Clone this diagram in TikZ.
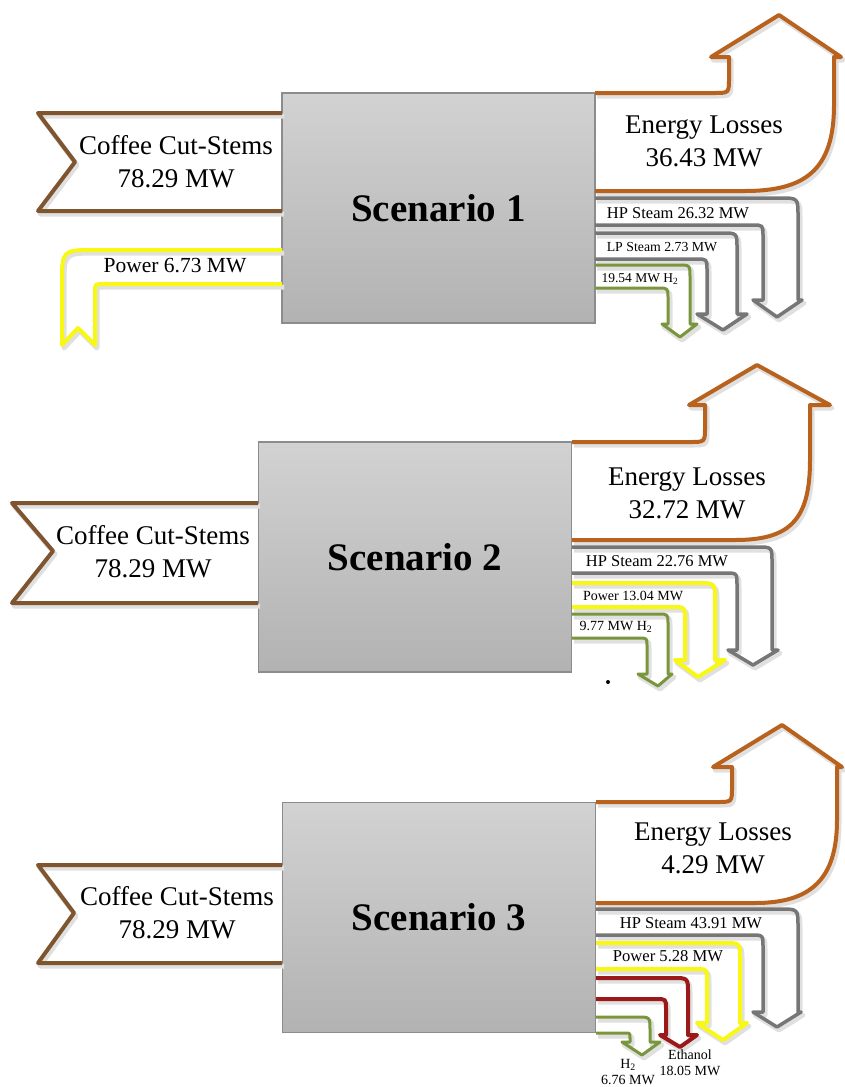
\documentclass[tikz,border=0pt]{standalone}
\usepackage{fontspec}
\setmainfont{Liberation Serif}
\definecolor{cbrown}{RGB}{127,85,48}
\definecolor{closs}{RGB}{184,98,30}
\definecolor{cgrayarr}{RGB}{118,118,118}
\definecolor{cyel}{RGB}{248,248,20}
\definecolor{cgreen}{RGB}{122,150,60}
\definecolor{cred}{RGB}{155,25,25}
\definecolor{boxtop}{RGB}{210,210,210}
\definecolor{boxbot}{RGB}{178,178,178}
\definecolor{boxedge}{RGB}{140,140,140}
\newcommand\fsz[2]{\fontsize{#1}{#2}\selectfont}
\newcommand\flowline[2]{\draw[shadeline] #2; \draw[#1] #2;}
\tikzset{
  shadeline/.style={draw=black!12, line width=5pt, line join=round, xshift=2pt, yshift=-3pt},
  inbrown/.style={draw=cbrown, line width=4pt, line join=round},
  lossline/.style={draw=closs, line width=4pt, line join=round},
  grayline/.style={draw=cgrayarr, line width=3.5pt, line join=round},
  yelline/.style={draw=cyel, line width=4pt, line join=round},
  greenline/.style={draw=cgreen, line width=3pt, line join=round},
  redline/.style={draw=cred, line width=4pt, line join=round},
  scenbox/.style={draw=boxedge, line width=1.5pt, top color=boxtop, bottom color=boxbot,
    minimum width=313pt, minimum height=230pt, inner sep=0pt,
    font=\fsz{39}{45}\bfseries},
  bigtxt/.style={align=center, font=\fsz{27}{33}, inner sep=0pt},
  midtxt/.style={font=\fsz{16.5}{19}, inner sep=0pt},
  smalltxt/.style={align=center, font=\fsz{14}{16}, inner sep=0pt},
}
\begin{document}
\begin{tikzpicture}[x=1pt,y=-1pt]
\useasboundingbox (0,0) rectangle (844,1087);
% ================= Scenario 1 =================
\node[scenbox] (s1box) at (438.5,208) {Scenario 1};
\flowline{inbrown}{(282,113) -- (38,113) -- (75,162) -- (38,211) -- (282,211)}
\flowline{lossline}{(595,93) -- (714,93) .. controls (729,93) .. (729,78) -- (729,57) -- (711,57) -- (779,15) -- (841,57) -- (834,57) -- (834,105) .. controls (834,170) and (805,191) .. (745,191) -- (595,191)}
\flowline{grayline}{(595,198) -- (780,198) .. controls (798,198) .. (798,216) -- (798,300) -- (802,300) -- (777,317) -- (753,300) -- (763,300) -- (763,236) .. controls (763,225) .. (752,225) -- (595,225)}
\flowline{grayline}{(595,233) -- (722,233) .. controls (737,233) .. (737,248) -- (737,314) -- (747,314) -- (723,330) -- (697,314) -- (707,314) -- (707,270) .. controls (707,259) .. (696,259) -- (595,259)}
\flowline{greenline}{(595,265) -- (678,265) .. controls (690,265) .. (690,277) -- (690,324) -- (697,324) -- (680,337) -- (662,324) -- (668,324) -- (668,298) .. controls (668,288) .. (658,288) -- (595,288)}
\flowline{yelline}{(282,250) -- (95,250) .. controls (62,250) .. (62,283) -- (62,345) -- (78,328) -- (95,345) -- (95,292) .. controls (95,284) .. (103,284) -- (282,284)}
\node[bigtxt] (s1intxt) at (176,162) {Coffee Cut-Stems\\78.29 MW};
\node[bigtxt] (s1losstxt) at (704,141) {Energy Losses\\36.43 MW};
\node[midtxt] (s1hp) at (678,213) {HP Steam 26.32 MW};
\node[font=\fsz{13.8}{16}, inner sep=0pt] (s1lp) at (662,247) {LP Steam 2.73 MW};
\node[font=\fsz{13.5}{16}, inner sep=0pt] (s1h2) at (640,279) {19.54 MW H\textsubscript{2}};
\node[font=\fsz{21.5}{25}, inner sep=0pt] (s1pow) at (175,266) {Power 6.73 MW};
% ================= Scenario 2 =================
\node[scenbox] (s2box) at (415,557) {Scenario 2};
\flowline{inbrown}{(258,503) -- (12,503) -- (53,551) -- (12,603) -- (258,603)}
\flowline{lossline}{(572,442) -- (690,442) .. controls (705,442) .. (705,427) -- (705,405) -- (689,405) -- (757,365) -- (830,405) -- (810,405) -- (810,460) .. controls (810,520) and (790,540) .. (735,540) -- (572,540)}
\flowline{grayline}{(572,547) -- (757,547) .. controls (772,547) .. (772,562) -- (772,650) -- (778,650) -- (753,665) -- (728,650) -- (737,650) -- (737,585) .. controls (737,573) .. (725,573) -- (572,573)}
\flowline{yelline}{(572,583) -- (698,583) .. controls (715,583) .. (715,600) -- (715,660) -- (725,660) -- (698,677) -- (675,660) -- (685,660) -- (685,620) .. controls (685,607) .. (672,607) -- (572,607)}
\flowline{greenline}{(572,614) -- (658,614) .. controls (668,614) .. (668,624) -- (668,674) -- (672,674) -- (658,686) -- (638,674) -- (647,674) -- (647,646) .. controls (647,638) .. (639,638) -- (572,638)}
\node[bigtxt] (s2intxt) at (153,552) {Coffee Cut-Stems\\78.29 MW};
\node[bigtxt] (s2losstxt) at (687,493) {Energy Losses\\32.72 MW};
\node[midtxt] (s2hp) at (657,561) {HP Steam 22.76 MW};
\node[font=\fsz{14}{16}, inner sep=0pt] (s2pow) at (633,596) {Power 13.04 MW};
\node[font=\fsz{14}{16}, inner sep=0pt] (s2h2) at (616,627) {9.77 MW H\textsubscript{2}};
\fill[black] (608,682) circle[radius=2pt];
% ================= Scenario 3 =================
\node[scenbox] (s3box) at (439,917.5) {Scenario 3};
\flowline{inbrown}{(282,865) -- (38,865) -- (74,913) -- (38,963) -- (282,963)}
\flowline{lossline}{(596,802) -- (717,802) .. controls (732,802) .. (732,787) -- (732,767) -- (713,767) -- (782,725) -- (842,767) -- (837,767) -- (837,820) .. controls (837,880) and (810,903) .. (755,903) -- (596,903)}
\flowline{grayline}{(596,909) -- (780,909) .. controls (798,909) .. (798,927) -- (798,1012) -- (801,1012) -- (777,1027) -- (753,1012) -- (763,1012) -- (763,947) .. controls (763,935) .. (751,935) -- (596,935)}
\flowline{yelline}{(596,943) -- (725,943) .. controls (740,943) .. (740,958) -- (740,1023) -- (747,1023) -- (723,1040) -- (697,1023) -- (707,1023) -- (707,981) .. controls (707,969) .. (695,969) -- (596,969)}
\flowline{redline}{(596,978) -- (673,978) .. controls (688,978) .. (688,993) -- (688,1035) -- (697,1035) -- (680,1047) -- (660,1035) -- (666,1035) -- (666,1009) .. controls (666,999) .. (656,999) -- (596,999)}
\flowline{greenline}{(596,1017) -- (637,1017) .. controls (650,1017) .. (650,1030) -- (650,1042) -- (660,1042) -- (642,1055) -- (622,1042) -- (630,1042) -- (630,1038) .. controls (630,1033) .. (625,1033) -- (596,1033)}
\node[bigtxt] (s3intxt) at (177,913) {Coffee Cut-Stems\\78.29 MW};
\node[bigtxt] (s3losstxt) at (713,848) {Energy Losses\\4.29 MW};
\node[midtxt] (s3hp) at (691,923) {HP Steam 43.91 MW};
\node[font=\fsz{16.6}{19}, inner sep=0pt] (s3pow) at (668,956) {Power 5.28 MW};
\node[smalltxt] (s3eth) at (690,1063) {Ethanol\\18.05 MW};
\node[smalltxt] (s3h2) at (628,1072) {H\textsubscript{2}\\6.76 MW};
\end{tikzpicture}
\end{document}
